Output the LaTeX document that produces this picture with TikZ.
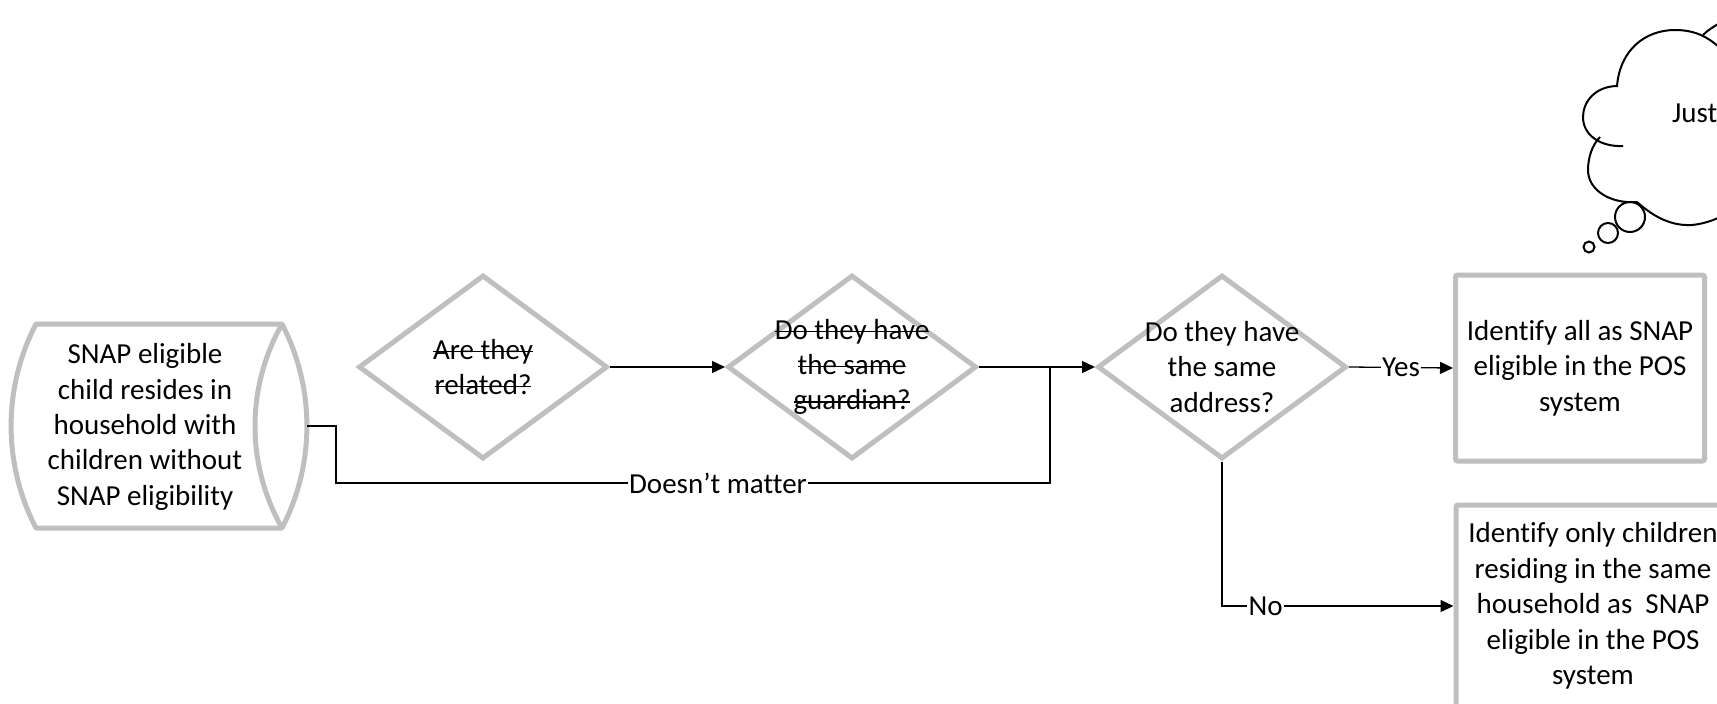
\documentclass[tikz,border=0pt]{standalone}
\usepackage{fontspec}
\setmainfont{Carlito}[Ligatures={NoCommon}]
\newcommand{\mystrk}[1]{\setbox0\hbox{#1}\rlap{\rule[0.25em]{\wd0}{1.4pt}}\box0}
\usetikzlibrary{shapes.geometric,arrows.meta}
\definecolor{grayc}{HTML}{BFBFBF}
\begin{document}
\begin{tikzpicture}[x=1pt,y=-1pt,
  every node/.style={font=\fontsize{29}{35.4}\selectfont},
  shp/.style={draw=grayc,line width=5pt},
  dia/.style={shp,shape=diamond,minimum width=249pt,minimum height=184pt,inner sep=0pt},
  boxnode/.style={shp,rounded corners=2pt,align=center,inner sep=0pt},
  txt/.style={align=center,inner sep=0pt},
  conn/.style={line width=1.3pt,-{Triangle[length=13pt,width=12pt]}},
  plain/.style={line width=1.3pt},
  lbl/.style={fill=white,inner sep=1.5pt},
  cloudline/.style={line width=2pt,black}]
\useasboundingbox (0,0) rectangle (1717,704);
\clip (0,0) rectangle (1717,704);

% start shape (direct data)
\draw[shp,line join=round] (36,324) -- (282,324)
  .. controls (315.2,387.9) and (315.2,464.1) .. (282,528) -- (36,528)
  .. controls (2.8,464.1) and (2.8,387.9) .. (36,324) -- cycle;
\draw[shp] (282,324) .. controls (246,388) and (246,464) .. (282,528);
\node[txt] (start) at (145,427) {SNAP eligible\\child resides in\\household with\\children without\\SNAP eligibility};
\coordinate (startE) at (307,426);

% decisions
\node[dia] (d1) at (483,367) {};
\node[txt] (d1t) at (d1) {\mystrk{Are they}\\\mystrk{related?}};
\node[dia] (d2) at (852,367) {};
\node[txt] (d2t) at (d2) {\mystrk{Do they have}\\\mystrk{the same}\\\mystrk{guardian?}};
\node[dia] (d3) at (1222,367) {};
\node[txt] (d3t) at (d3) {Do they have\\the same\\address?};

% outcome boxes
\node[boxnode,minimum width=249pt,minimum height=186pt] (b1) at (1580,368) {Identify all as SNAP\\eligible in the POS\\system};
\node[boxnode,minimum width=274pt,minimum height=202pt] (b2) at (1593,606) {Identify only children\\residing in the same\\household as~ SNAP\\eligible in the POS\\system};

% connectors
\draw[conn] (d1.east) -- (d2.west);
\draw[conn] (d2.east) -- (d3.west);
\coordinate (dmL) at (336,483);
\coordinate (dmR) at (1050,483);
\coordinate (jn) at (1050,367);
\draw[plain] (startE) -- (startE -| dmL) -- (dmL) -- node[lbl,pos=0.535] (dm) {Doesn’t matter} (dmR) -- (jn);
\draw[conn] (d3.east) -- node[lbl] (yes) {Yes} (b1.west);
\draw[conn] (d3.south) |- node[lbl,pos=0.594] (no) {No} (b2.west);

% thought cloud (partly off the page)
\draw[cloudline] (1617,86) .. controls (1620,50) and (1645,30) .. (1675,30)
  .. controls (1695,30) and (1708,37) .. (1720,48);
\draw[cloudline] (1703,35) .. controls (1708,30) and (1713,27) .. (1720,23);
\draw[cloudline] (1618,86) .. controls (1595,86) and (1583,102) .. (1583,117)
  .. controls (1583,135) and (1600,147) .. (1623,146);
\draw[cloudline] (1600,137) .. controls (1592,145) and (1588,158) .. (1588,170)
  .. controls (1588,190) and (1610,204) .. (1637,202);
\draw[cloudline] (1637,202) .. controls (1655,218) and (1672,226) .. (1692,225)
  .. controls (1702,224) and (1712,221) .. (1720,217);
\draw[cloudline] (1630,217) circle[radius=15];
\draw[cloudline] (1608,233) circle[radius=10];
\draw[cloudline] (1589,247) circle[radius=5.5];
\node[txt,anchor=west] (cloudtxt) at (1672,113) {Just};
\end{tikzpicture}
\end{document}
